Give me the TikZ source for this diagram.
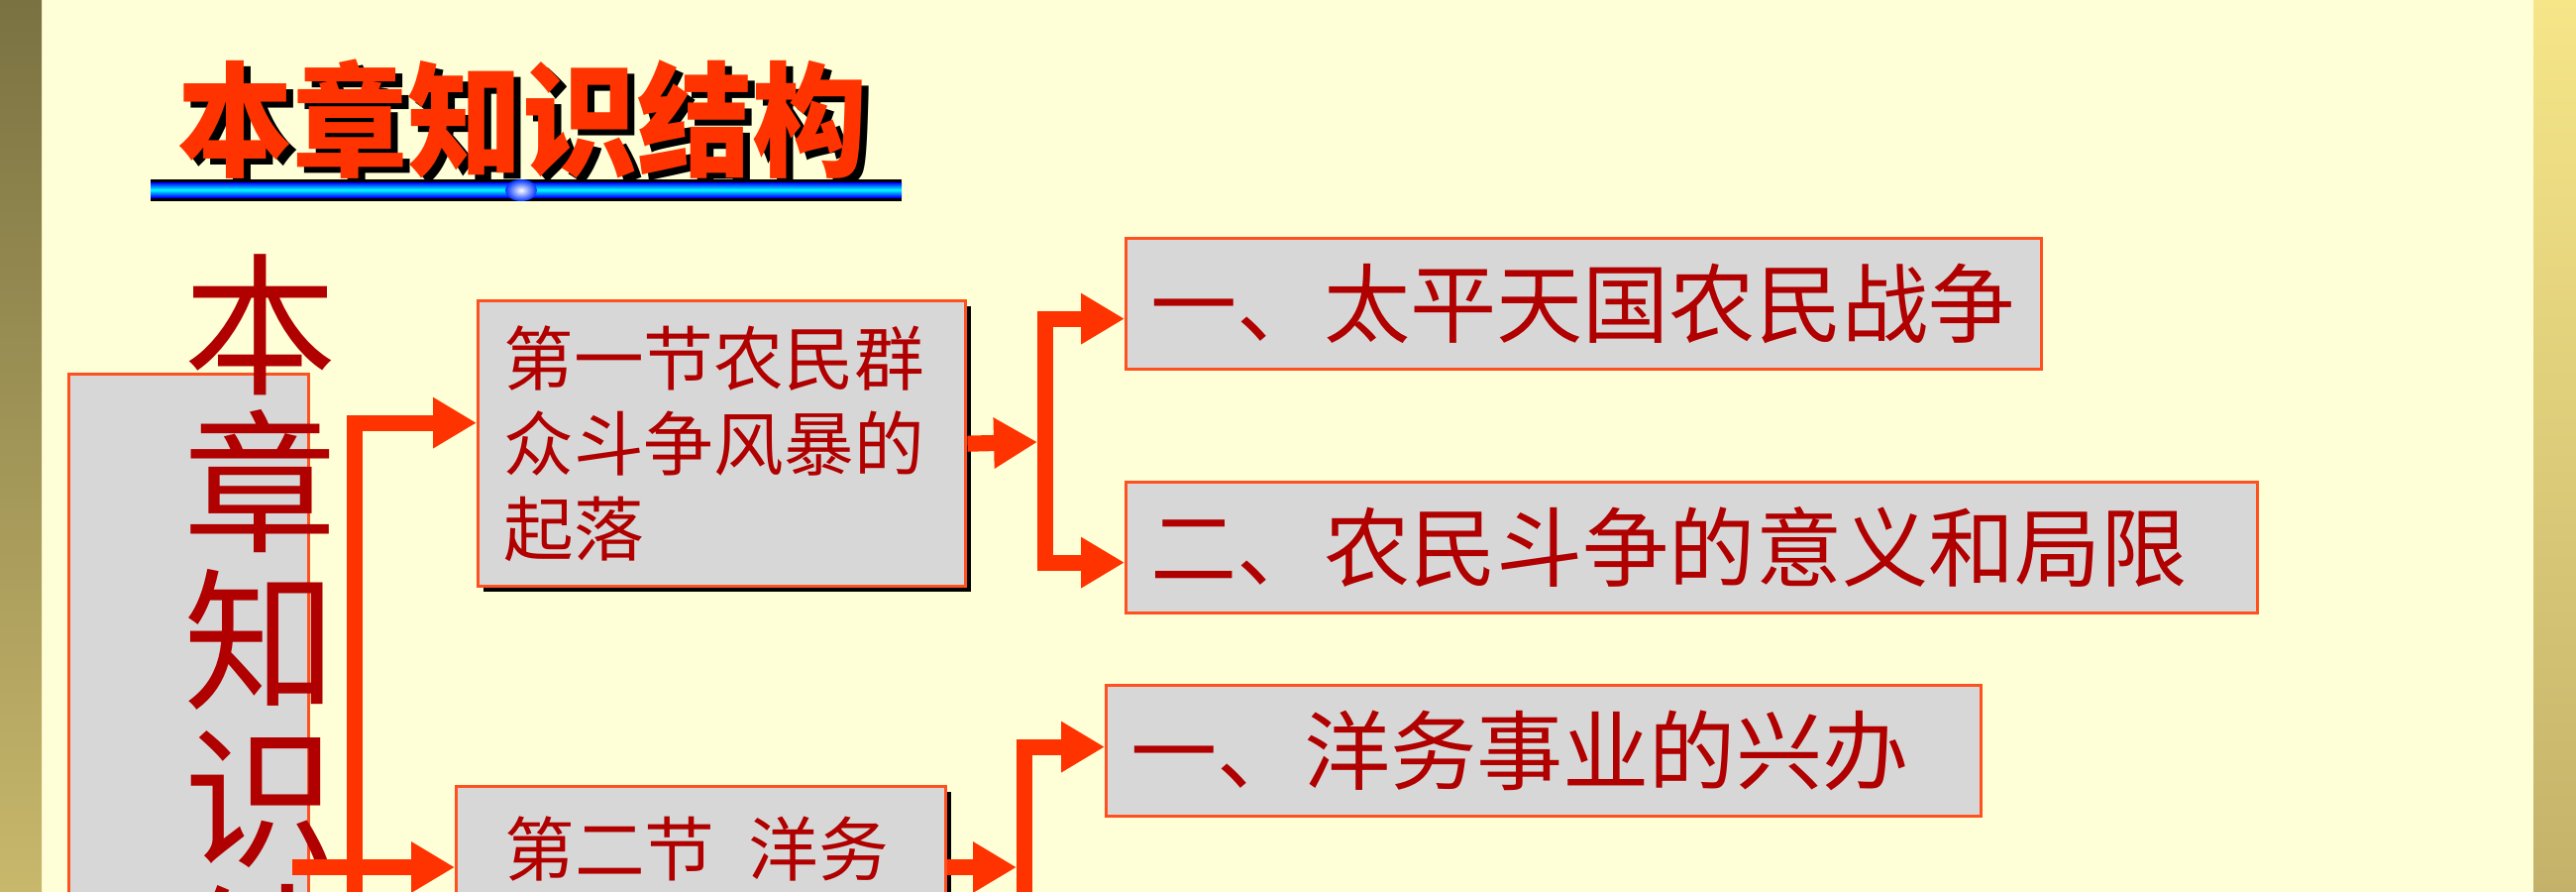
\documentclass[tikz,border=0pt]{standalone}
\usepackage{fontspec}
\usepackage{tikz}
\usetikzlibrary{calc,positioning,shadows,arrows.meta}
\newfontfamily\cjk{Noto Sans CJK SC}
\definecolor{cream}{HTML}{FFFFD7}
\definecolor{flowred}{HTML}{FF3300}
\definecolor{textred}{HTML}{B00000}
\definecolor{boxgray}{HTML}{D7D7D7}
\definecolor{edgered}{HTML}{FF5020}

\tikzset{
	secbox/.style={draw=edgered,line width=0.9pt,fill=boxgray,text=textred,anchor=north west,align=left,inner xsep=0.26cm,font=\cjk\fontsize{20.1}{24.5}\selectfont},
	partbox/.style={draw=edgered,line width=0.9pt,fill=boxgray,text=textred,anchor=north west,align=left,minimum height=1.32cm,inner xsep=0.25cm,font=\cjk\fontsize{24.8}{29}\selectfont},
	shadowed/.style={drop shadow={shadow xshift=0.05cm,shadow yshift=-0.05cm,fill=black,opacity=1}},
	heading/.style={inner sep=0,anchor=west,yscale=1.08,transform shape,font=\cjk\bfseries\fontsize{33}{33}\selectfont},
	flow/.style={draw=flowred,line width=4.6pt,line join=miter,-{Triangle[length=12.5pt,width=13.8pt]}}
}

\begin{document}
\begin{tikzpicture}[x=0.01cm,y=-0.01cm]
		\useasboundingbox (0,0) rectangle (2600,900);
		\fill[cream] (0,0) rectangle (2600,900);
		\shade[top color={rgb,255:red,122;green,114;blue,66},bottom color={rgb,255:red,200;green,184;blue,108}] (0,0) rectangle (42,900);
		\shade[top color={rgb,255:red,246;green,230;blue,136},bottom color={rgb,255:red,196;green,178;blue,106}] (2557,0) rectangle (2600,900);

		\node(titleshadow) [heading,text=black] at (186,126) {本章知识结构};
		\node(title) [heading,text=flowred] at (179,120) {本章知识结构};
		\fill[black] (152,181) rectangle (910,203);
		\shade[top color=blue,bottom color=blue,middle color=cyan] (152,184) rectangle (910,199);
		\shade[inner color=white,outer color=blue!80!cyan] (526,192) ellipse (16 and 11);

		\node(chapbox) [draw=edgered,line width=0.9pt,fill=boxgray,anchor=north west,minimum width=2.42cm,minimum height=6cm] at (68,376) {};
		\node(chaptitle) [inner sep=0,anchor=north,align=center,text=textred,font=\cjk\fontsize{44}{45.2}\selectfont] at (263,256) {本\\章\\知\\识\\结\\构};

		\node(sec1) [secbox,shadowed,minimum height=2.88cm,text width=4.4cm] at (481,302) {第一节农民群\\众斗争风暴的\\起落};
		\node(sec2) [secbox,shadowed,minimum height=1.26cm,inner xsep=0.49cm,text width=3.96cm] at (459,792) {第二节\kern0.34cm洋务};

		\node(partA) [partbox,text width=8.73cm] at (1135,239) {一、太平天国农民战争};
		\node(partB) [partbox,text width=10.91cm] at (1135,485) {二、农民斗争的意义和局限};
		\node(partC) [partbox,text width=8.32cm] at (1115,690) {一、洋务事业的兴办};

		\coordinate(trunk) at (358,950);
		\coordinate(fork) at (295,875);
		\coordinate(hubA) at (1055,446);
		\coordinate(footC) at (1034,950);

		\draw[flow] (trunk) |- ([yshift=0.21cm]sec1.west);
		\draw[flow] (fork) -- (fork -| sec2.west);
		\draw[flow] (sec1.east) -- ([xshift=-0.08cm]hubA);
		\draw[flow] (hubA) |- ([yshift=-0.15cm]partA.west);
		\draw[flow] (hubA) |- ([yshift=-0.15cm]partB.west);
		\draw[flow] (footC) |- ([yshift=0.04cm]partC.west);
		\draw[flow] (sec2.east |- fork) -- ([xshift=-0.08cm]footC |- fork);
\end{tikzpicture}
\end{document}
